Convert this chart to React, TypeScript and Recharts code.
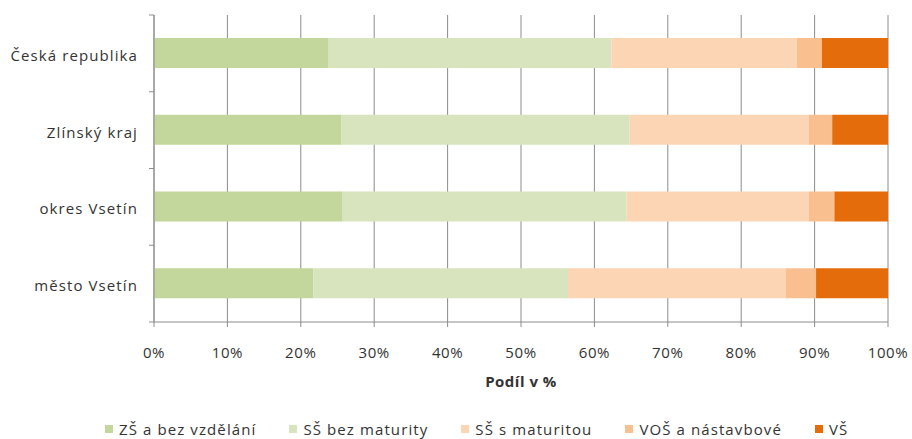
import { BarChart, Bar, XAxis, YAxis, CartesianGrid, Legend, Label } from 'recharts'

const categories = ['Česká republika', 'Zlínský kraj', 'okres Vsetín', 'město Vsetín']

const zsValues = [23.8, 25.5, 25.7, 21.7]
const ssBezValues = [38.5, 39.3, 38.7, 34.7]
const ssSValues = [25.3, 24.4, 24.8, 29.7]
const vosValues = [3.4, 3.2, 3.5, 4.1]
const vsValues = [9.0, 7.6, 7.3, 9.8]

const xTicks = [0, 10, 20, 30, 40, 50, 60, 70, 80, 90, 100]

const seriesNames = ['ZŠ a bez vzdělání', 'SŠ bez maturity', 'SŠ s maturitou', 'VOŠ a nástavbové', 'VŠ']
const seriesKeys = ['zs', 'ssBez', 'ssS', 'vos', 'vs']
const seriesColors = ['#c3d69b', '#d7e4bd', '#fcd5b5', '#fabf8f', '#e46c0a']

const data = categories.map((name, i) => ({
  name,
  zs: zsValues[i],
  ssBez: ssBezValues[i],
  ssS: ssSValues[i],
  vos: vosValues[i],
  vs: vsValues[i],
}))

const W = 912
const H = 439
const PLOT_LEFT = 154
const PLOT_TOP = 15
const PLOT_BOTTOM = 322
const BAND = (PLOT_BOTTOM - PLOT_TOP) / categories.length

const GRID = '#8c8c8c'
const TEXT = '#333333'
const FONT = '"Open Sans", "Noto Sans", sans-serif'

function CategoryTick(props: any) {
  const { y, payload, index } = props
  const last = index === categories.length - 1
  return (
    <g>
      <text
        x={PLOT_LEFT - 16}
        y={y}
        dy="0.5em"
        textAnchor="end"
        fill={TEXT}
        fontSize={15}
        style={{ letterSpacing: 1.1 }}
      >
        {payload.value}
      </text>
      <line x1={PLOT_LEFT - 5} x2={PLOT_LEFT} y1={y - BAND / 2} y2={y - BAND / 2} stroke={GRID} />
      {last && <line x1={PLOT_LEFT - 5} x2={PLOT_LEFT} y1={y + BAND / 2} y2={y + BAND / 2} stroke={GRID} />}
    </g>
  )
}

function LegendRow() {
  return (
    <div style={{ height: 20, display: 'flex', alignItems: 'center', paddingLeft: 105, fontFamily: FONT }}>
      {seriesNames.map((n, i) => (
        <div key={n} style={{ display: 'flex', alignItems: 'center', marginRight: 33 }}>
          <span style={{ width: 8, height: 8, background: seriesColors[i], marginRight: 6, display: 'inline-block' }} />
          <span style={{ fontSize: 15, color: TEXT, letterSpacing: 1.1, whiteSpace: 'nowrap' }}>{n}</span>
        </div>
      ))}
    </div>
  )
}

export default function App() {
  return (
    <div style={{ position: 'absolute', left: 0, top: 0, width: W, height: H, background: '#fff', fontFamily: FONT }}>
      <BarChart
        width={W}
        height={H}
        data={data}
        layout="vertical"
        margin={{ top: PLOT_TOP, right: W - 888, bottom: 0, left: 0 }}
        barSize={30}
      >
        <CartesianGrid horizontal={false} stroke={GRID} />
        <XAxis
          type="number"
          domain={[0, 100]}
          ticks={xTicks}
          tickFormatter={(v) => `${v}%`}
          height={97}
          tickSize={5}
          tickMargin={20}
          stroke={GRID}
          tick={{ fill: TEXT, fontSize: 15, letterSpacing: 0.6 }}
        >
          <Label
            value="Podíl v %"
            position="insideBottom"
            offset={32}
            style={{ fill: TEXT, fontSize: 15, fontWeight: 700, letterSpacing: 0.5 }}
          />
        </XAxis>
        <YAxis
          type="category"
          dataKey="name"
          width={PLOT_LEFT}
          tickLine={false}
          stroke={GRID}
          tick={<CategoryTick />}
          interval={0}
        />
        <Legend verticalAlign="bottom" height={20} content={() => <LegendRow />} />
        {seriesKeys.map((k, i) => (
          <Bar key={k} dataKey={k} name={seriesNames[i]} stackId="a" fill={seriesColors[i]} isAnimationActive={false} />
        ))}
      </BarChart>
    </div>
  )
}
